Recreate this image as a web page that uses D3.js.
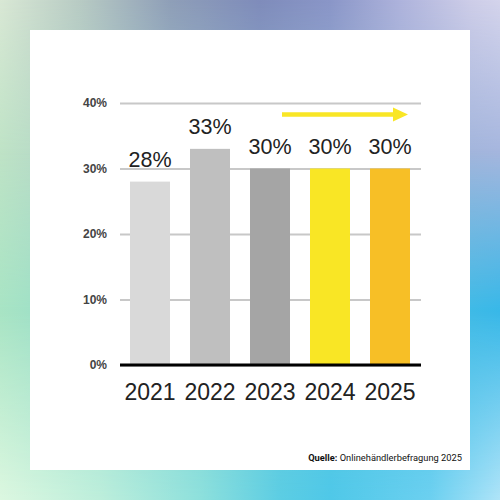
<!DOCTYPE html>
<html><head><meta charset="utf-8">
<script src="https://cdn.jsdelivr.net/npm/d3@7"></script>
<style>html,body{margin:0;padding:0;background:#fff;}svg{display:block;}</style>
</head><body>
<script>
const years = ["2021","2022","2023","2024","2025"];
const shares = [28, 33, 30, 30, 30];
const barColors = ["#d9d9d9","#bfbfbf","#a5a5a5","#f9e625","#f7bf26"];
const yTicks = [0, 10, 20, 30, 40];
const sourceLabel = "Quelle:";
const sourceText = " Onlinehändlerbefragung 2025";
// background colour rows: [vertical position, horizontal stops]
const bgRows = [
  [0.0, [[0,"#d9e8d5"],[0.16,"#b8cbc4"],[0.34,"#8f9fb8"],[0.52,"#7f8cbb"],[0.66,"#8a96c8"],[0.8,"#aeb3dc"],[0.94,"#cdcde8"],[1,"#d4d4ec"]]],
  [0.3, [[0,"#bfe3c6"],[0.5,"#8fb0cc"],[1,"#a6b6de"]]],
  [0.62, [[0,"#a8e4c4"],[0.5,"#6ccbd8"],[1,"#38b8e8"]]],
  [1.0, [[0,"#dcf7e0"],[0.2,"#bdeedb"],[0.4,"#8ee0dc"],[0.56,"#5ccde3"],[0.66,"#4fc8e8"],[0.86,"#6cd0f0"],[1,"#b0e4f8"]]]
];

const W = 500, H = 500;
const svg = d3.select("body").append("svg").attr("width", W).attr("height", H);
const defs = svg.append("defs");
bgRows.forEach((row, k) => {
  const g = defs.append("linearGradient").attr("id", "gRow" + k)
    .attr("x1", 0).attr("y1", 0).attr("x2", 1).attr("y2", 0);
  row[1].forEach(s => g.append("stop").attr("offset", s[0]).attr("stop-color", s[1]));
  let maskAttr = null;
  if (k > 0) {
    const vg = defs.append("linearGradient").attr("id", "gV" + k)
      .attr("x1", 0).attr("y1", 0).attr("x2", 0).attr("y2", 1);
    vg.append("stop").attr("offset", bgRows[k-1][0]).attr("stop-color", "#fff").attr("stop-opacity", 0);
    vg.append("stop").attr("offset", row[0]).attr("stop-color", "#fff").attr("stop-opacity", 1);
    defs.append("mask").attr("id", "mV" + k).append("rect")
      .attr("width", W).attr("height", H).attr("fill", `url(#gV${k})`);
    maskAttr = `url(#mV${k})`;
  }
  svg.append("rect").attr("width", W).attr("height", H)
    .attr("fill", `url(#gRow${k})`).attr("mask", maskAttr);
});
svg.append("rect").attr("x", 30).attr("y", 30).attr("width", 440).attr("height", 440).attr("fill", "#fff");

const x = d3.scaleBand().domain(years).range([120, 420]).paddingInner(1/3).paddingOuter(1/6);
const y = d3.scaleLinear().domain([0, 40]).range([365, 103]);

// gridlines + y labels
const yAxis = d3.axisLeft(y).tickValues(yTicks).tickFormat(d => d + "%").tickSize(-301).tickPadding(13);
const ga = svg.append("g").attr("transform", "translate(120,0)").call(yAxis);
ga.select(".domain").remove();
ga.selectAll(".tick line").attr("stroke", "#c8c8c8").attr("stroke-width", 2);
ga.selectAll(".tick text").attr("font-family", "Liberation Sans, Arial, sans-serif")
  .attr("font-size", 12).attr("font-weight", "bold").attr("fill", "#444");

// bars
svg.selectAll("rect.bar").data(years).join("rect").attr("class", "bar")
  .attr("x", d => x(d)).attr("width", x.bandwidth())
  .attr("y", (d, i) => y(shares[i])).attr("height", (d, i) => y(0) - y(shares[i]))
  .attr("fill", (d, i) => barColors[i]);

// baseline
svg.append("line").attr("x1", 120).attr("x2", 421).attr("y1", y(0)).attr("y2", y(0))
  .attr("stroke", "#000").attr("stroke-width", 3);

// value labels
svg.selectAll("text.val").data(years).join("text").attr("class", "val")
  .attr("x", d => x(d) + x.bandwidth() / 2).attr("y", (d, i) => y(shares[i]) - 15)
  .attr("text-anchor", "middle").attr("font-family", "Liberation Sans, Arial, sans-serif")
  .attr("font-size", 21.5).attr("fill", "#222").text((d, i) => shares[i] + "%");

// x axis labels
const xAxis = d3.axisBottom(x).tickSize(0).tickPadding(19);
const gx = svg.append("g").attr("transform", `translate(0,${y(0)})`).call(xAxis);
gx.select(".domain").remove();
gx.selectAll(".tick text").attr("font-family", "Liberation Sans, Arial, sans-serif")
  .attr("font-size", 23).attr("fill", "#222");

// arrow
const ay = 114.5;
svg.append("line").attr("x1", 282).attr("x2", 395).attr("y1", ay).attr("y2", ay)
  .attr("stroke", "#f9e625").attr("stroke-width", 4.5);
svg.append("path").attr("d", `M393,${ay-7}L408,${ay}L393,${ay+7}Z`).attr("fill", "#f9e625");

// source
const st = svg.append("text").attr("x", 462).attr("y", 461).attr("text-anchor", "end")
  .attr("font-family", "Roboto, sans-serif").attr("font-size", 9.3).attr("fill", "#111");
st.append("tspan").attr("font-weight", "bold").text(sourceLabel);
st.append("tspan").text(sourceText);
</script>
</body></html>
